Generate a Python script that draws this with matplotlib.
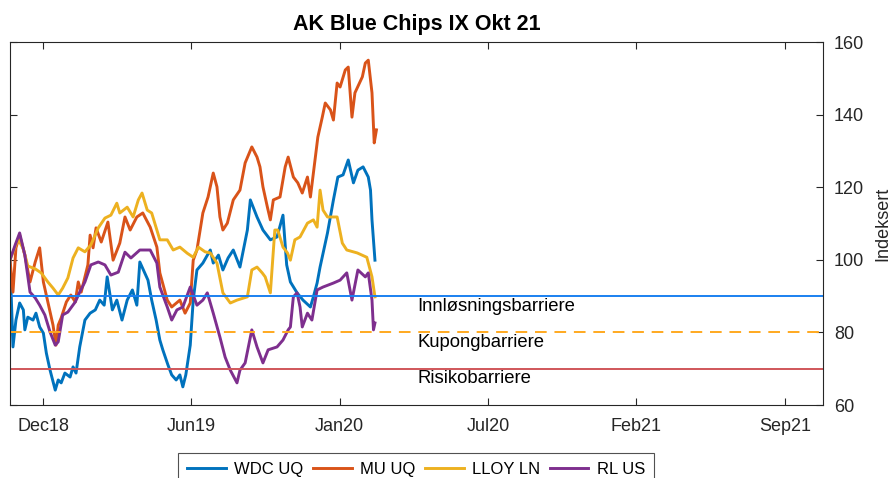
import numpy as np
import matplotlib.pyplot as plt
import matplotlib.dates as mdates

plt.rcParams['font.family'] = ['Liberation Sans', 'DejaVu Sans']

# Start date of the series; x values below are days after it
start = np.datetime64('2018-10-24')

wdc_days = [0, 4, 8, 13, 18, 20, 24, 31, 35, 40, 45, 49, 54, 61, 65, 69, 74, 81, 85, 89,
            94, 101, 108, 115, 121, 127, 131, 138, 144, 151, 158, 165, 171, 175, 186, 191,
            197, 202, 206, 213, 218, 224, 229, 233, 237, 243, 247, 252, 260, 270, 274, 281,
            287, 294, 301, 310, 320, 324, 333, 341, 351, 360, 368, 373, 378, 387, 395, 405,
            409, 414, 418, 428, 436, 442, 449, 456, 463, 469, 476, 483, 486, 488, 492]
wdc = [100.0, 76.0, 83.4, 88.1, 86.2, 80.7, 84.2, 83.4, 85.3, 81.5, 79.8, 74.3, 69.6, 64.1,
       66.9, 66.1, 68.8, 67.7, 70.5, 68.8, 76.0, 83.4, 85.3, 86.2, 88.9, 87.5, 95.3, 86.2,
       88.9, 83.4, 88.9, 91.7, 87.5, 99.4, 94.4, 88.9, 83.4, 77.9, 75.2, 71.0, 68.3, 66.9,
       68.3, 65.0, 68.3, 76.5, 88.9, 97.2, 99.1, 102.7, 99.1, 101.3, 97.2, 100.5, 102.7,
       98.0, 108.2, 116.5, 111.8, 108.2, 105.5, 106.3, 112.3, 98.6, 93.9, 90.9, 88.9, 87.0,
       89.8, 93.6, 98.0, 107.4, 116.5, 122.8, 123.4, 127.5, 121.2, 124.7, 125.6, 122.8,
       119.2, 111.0, 99.9]

mu_days = [0, 4, 8, 13, 20, 27, 34, 40, 45, 51, 58, 62, 65, 69, 76, 82, 88, 92, 96, 105,
           108, 112, 116, 123, 132, 139, 148, 155, 162, 171, 179, 189, 198, 202, 212, 218,
           229, 236, 243, 247, 252, 260, 267, 274, 279, 283, 287, 293, 301, 310, 317, 326,
           333, 337, 341, 347, 351, 355, 364, 371, 375, 382, 388, 394, 401, 405, 409, 415,
           421, 425, 432, 436, 441, 445, 452, 456, 461, 465, 475, 479, 483, 488, 491, 494]
mu = [100.0, 91.1, 103.3, 106.8, 101.3, 93.9, 99.4, 103.3, 93.9, 88.4, 82.0, 76.5, 82.0,
      84.0, 88.4, 90.3, 88.4, 93.9, 91.1, 98.6, 106.8, 103.3, 108.8, 104.9, 110.4, 99.9,
      104.6, 111.8, 108.2, 111.8, 112.9, 109.0, 103.5, 96.4, 88.9, 87.0, 88.9, 85.3, 88.1,
      99.9, 102.7, 112.9, 117.3, 123.9, 120.1, 111.8, 108.2, 110.1, 116.5, 119.2, 126.7,
      131.1, 128.3, 125.6, 120.1, 114.5, 111.0, 116.5, 117.3, 125.6, 128.3, 122.8, 121.2,
      118.4, 122.8, 117.3, 123.9, 133.8, 139.3, 143.2, 141.3, 138.5, 148.7, 147.6, 152.3,
      153.1, 139.3, 146.0, 150.4, 154.2, 155.0, 146.0, 132.2, 135.8]

lloy_days = [0, 11, 18, 24, 34, 42, 51, 58, 65, 71, 78, 85, 92, 101, 109, 119, 128, 136,
             144, 148, 158, 166, 173, 178, 185, 191, 198, 202, 212, 220, 229, 239, 247, 254,
             263, 270, 279, 287, 297, 306, 320, 326, 333, 340, 344, 351, 357, 361, 368, 374,
             378, 384, 391, 401, 409, 414, 418, 422, 428, 441, 448, 454, 468, 481, 488, 492]
lloy = [100.0, 105.7, 103.0, 98.3, 97.5, 96.4, 93.9, 92.2, 90.3, 92.2, 95.0, 100.5, 103.3,
        102.2, 104.1, 108.8, 111.5, 112.3, 115.6, 112.9, 114.5, 111.8, 116.5, 118.4, 113.7,
        112.9, 108.2, 105.5, 105.5, 102.7, 103.5, 101.8, 100.7, 103.5, 102.2, 101.9, 99.1,
        90.9, 88.1, 88.9, 89.8, 97.2, 98.0, 96.4, 95.3, 90.9, 108.2, 108.2, 103.5, 101.9,
        99.9, 105.5, 106.3, 110.1, 111.0, 109.0, 119.2, 113.7, 111.8, 111.8, 104.6, 102.7,
        101.9, 100.7, 95.3, 89.8]

rl_days = [0, 7, 13, 20, 27, 34, 40, 47, 54, 61, 65, 71, 78, 88, 94, 101, 109, 119, 128,
           136, 146, 155, 163, 175, 189, 198, 202, 212, 218, 225, 233, 243, 252, 260, 266,
           274, 283, 290, 297, 306, 310, 317, 326, 333, 341, 348, 360, 368, 375, 378, 382,
           387, 391, 394, 401, 407, 414, 422, 436, 445, 454, 461, 469, 479, 483, 488, 490, 492]
rl = [100.0, 104.1, 107.4, 101.3, 91.1, 89.5, 87.5, 84.8, 80.1, 76.5, 77.4, 84.8, 85.6,
      88.4, 91.1, 93.9, 98.6, 99.4, 98.6, 95.8, 96.6, 102.1, 100.5, 102.7, 102.7, 99.1,
      92.5, 87.0, 83.4, 86.2, 87.0, 92.5, 87.5, 88.9, 90.9, 85.3, 78.7, 73.2, 69.6, 66.1,
      69.6, 71.6, 80.7, 76.0, 71.6, 75.2, 76.0, 77.9, 80.7, 81.5, 89.8, 90.9, 87.0, 81.5,
      85.3, 83.4, 91.7, 92.5, 93.6, 94.4, 96.4, 88.9, 97.2, 95.3, 96.4, 88.9, 80.7, 82.6]

series_names = ['WDC UQ', 'MU UQ', 'LLOY LN', 'RL US']
series_colors = ['#0072BD', '#D95319', '#EDB120', '#7E2F8E']

barrier_levels = [90, 80, 70]
barrier_names = ['Innløsningsbarriere', 'Kupongbarriere', 'Risikobarriere']
barrier_colors = ['#1a80f0', '#FFA91F', '#D0565A']
barrier_styles = ['-', (0, (6, 4)), '-']

tick_labels = ['Dec18', 'Jun19', 'Jan20', 'Jul20', 'Feb21', 'Sep21']
tick_first = 44.5   # days after start for first tick
tick_step = 200     # days between ticks
x_end = 1096        # days after start at right edge


def to_dates(days):
    return start + np.array(np.round(np.array(days) * 24), dtype='timedelta64[h]')


fig = plt.figure(figsize=(8.93, 4.78), dpi=100)
ax = fig.add_axes([0.0112, 0.1527, 0.9104, 0.7594])

for d, v, name, c in zip([wdc_days, mu_days, lloy_days, rl_days], [wdc, mu, lloy, rl],
                         series_names, series_colors):
    ax.plot(to_dates(d), v, color=c, lw=2.1, label=name)

text_x = to_dates([549])[0]
for lev, name, c, ls in zip(barrier_levels, barrier_names, barrier_colors, barrier_styles):
    ax.axhline(lev, color=c, lw=1.4, ls=ls)
    ax.text(text_x, lev - 0.4, name, fontsize=13.3, va='top', ha='left', color='black')

ax.set_xlim(to_dates([0])[0], to_dates([x_end])[0])
ax.set_ylim(60, 160)
ax.set_xticks(to_dates([tick_first + tick_step * i for i in range(len(tick_labels))]))
ax.set_xticklabels(tick_labels)
ax.set_yticks(np.arange(60, 161, 20))

ax.tick_params(which='both', direction='in', top=True, bottom=True, left=True, right=True,
               labelleft=False, labelright=True, labelsize=13, length=5, width=0.8,
               colors='#262626')
ax.tick_params(axis='x', pad=9)
ax.tick_params(axis='y', pad=8)
for sp in ax.spines.values():
    sp.set_color('#262626')
    sp.set_linewidth(0.8)

ax.yaxis.set_label_position('right')
ax.set_ylabel('Indeksert', fontsize=13, color='#262626', labelpad=7)
ax.set_title('AK Blue Chips IX Okt 21', fontsize=15.5, fontweight='bold', pad=9)

leg = fig.legend(loc='upper center', bbox_to_anchor=(0.466, 0.0523), ncol=4, fontsize=12,
                 frameon=True, fancybox=False, edgecolor='#262626', handlelength=2.3,
                 columnspacing=0.6, handletextpad=0.5, borderpad=0.55, borderaxespad=0)
leg.get_frame().set_linewidth(0.8)

fig.savefig('out.png', dpi=100)
